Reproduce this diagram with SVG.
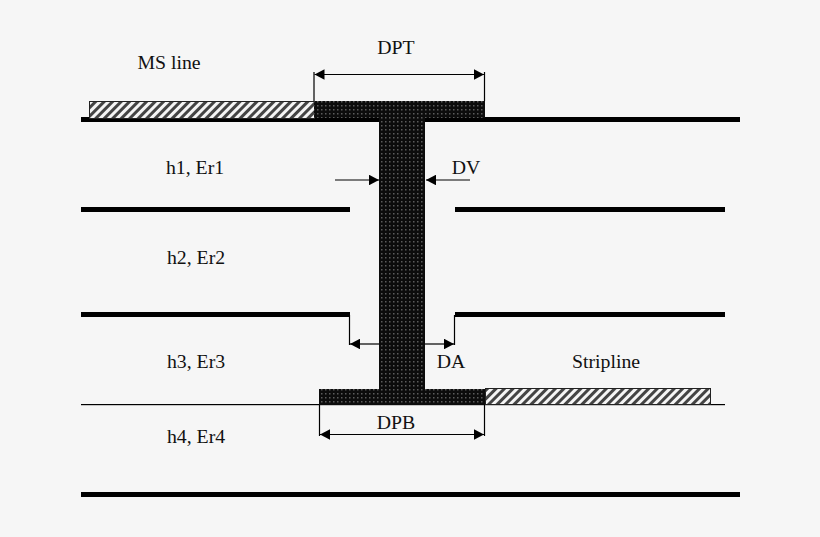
<svg xmlns="http://www.w3.org/2000/svg" width="820" height="537" viewBox="0 0 820 537">
<style>
text{font-family:"Liberation Serif",serif;font-size:19.800px;fill:#111;text-anchor:middle}
.plane{fill:#000}
.dim{stroke:#000;stroke-width:1.2;fill:none}
.arr{stroke:#000;stroke-width:1.2;fill:none;marker-start:url(#a);marker-end:url(#a)}
.one{stroke:#000;stroke-width:1.2;fill:none;marker-end:url(#a)}
.hatch{fill:url(#h);stroke:#222;stroke-width:1}
.via{fill:url(#d)}
</style>
<defs>
<pattern id="h" width="6" height="6" patternUnits="userSpaceOnUse" patternTransform="rotate(45)">
<rect width="6" height="6" fill="#f5f5f5"/><rect width="3" height="6" fill="#444"/>
</pattern>
<pattern id="d" width="4" height="4" patternUnits="userSpaceOnUse">
<rect width="4" height="4" fill="#0c0c0c"/><rect x="1" y="1" width="1.500" height="1.500" fill="#5c5c5c"/>
</pattern>
<marker id="a" viewBox="0 0 10 10" refX="10" refY="5" markerWidth="10" markerHeight="10.500" markerUnits="userSpaceOnUse" orient="auto-start-reverse" preserveAspectRatio="none">
<path d="M0 0L10 5L0 10Z" fill="#000"/>
</marker>
</defs>
<rect width="820" height="537" fill="#f6f6f6"/>
<g id="planes">
<rect class="plane" x="81" y="117" width="659" height="5"/>
<rect class="plane" x="81" y="207" width="269" height="5"/>
<rect class="plane" x="455" y="207" width="270" height="5"/>
<rect class="plane" x="81" y="312" width="269" height="5"/>
<rect class="plane" x="455" y="312" width="270" height="5"/>
<rect class="plane" x="81" y="404" width="644" height="1.200"/>
<rect class="plane" x="81" y="492" width="659" height="5"/>
</g>
<g id="ms-line"><rect class="hatch" x="89.500" y="101.500" width="225" height="17"/></g>
<g id="stripline"><rect class="hatch" x="485.500" y="388.500" width="225" height="16"/></g>
<g id="via">
<rect class="via" x="314" y="101" width="171" height="17"/>
<rect class="via" x="379" y="118" width="46" height="271"/>
<rect class="via" x="319" y="389" width="166" height="16"/>
</g>
<g id="connectors">
<path class="dim" d="M314 72V101M484.500 72V101M349.500 315V345M454.500 315V345M319.500 405V436M484.500 405V436"/>
<path class="arr" d="M314.500 74.500H484"/>
<path class="one" d="M335 180H379"/>
<path class="one" d="M470 180H426"/>
<path class="one" d="M379 344H350"/>
<path class="one" d="M425 344H454"/>
<path class="arr" d="M320 434.500H484"/>
</g>
<g id="labels">
<text x="396" y="54">DPT</text>
<text x="169" y="69">MS line</text>
<text x="195" y="174">h1, Er1</text>
<text x="466" y="174">DV</text>
<text x="196" y="264">h2, Er2</text>
<text x="196" y="368">h3, Er3</text>
<text x="451" y="368">DA</text>
<text x="606" y="368">Stripline</text>
<text x="396" y="429">DPB</text>
<text x="196" y="443">h4, Er4</text>
</g>
</svg>
